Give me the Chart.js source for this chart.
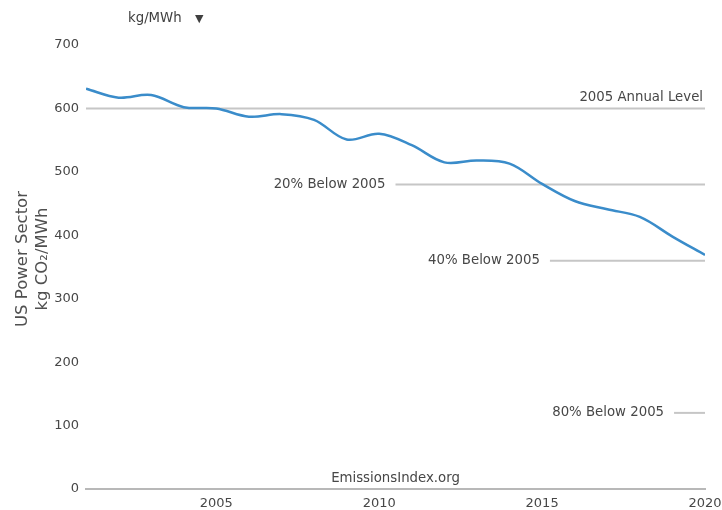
<!DOCTYPE html>
<html>
<head>
<meta charset="utf-8">
<script src="https://cdn.jsdelivr.net/npm/chart.js@4"></script>
<style>
  html, body { margin: 0; padding: 0; background: #fff; }
  #wrap { position: relative; width: 722px; height: 510px; }
</style>
</head>
<body>
<div id="wrap"><canvas id="c" width="722" height="510"></canvas></div>
<script>
// US power sector CO2 intensity, kg CO2 per MWh
const years = [2001, 2002, 2003, 2004, 2005, 2006, 2007, 2008, 2009, 2010,
               2011, 2012, 2013, 2014, 2015, 2016, 2017, 2018, 2019, 2020];
const intensity = [631, 617, 621, 602, 600, 587, 591, 582, 551, 560,
                   542, 515, 518, 513, 481, 454, 441, 429, 398, 369];

const yTicks = [0, 100, 200, 300, 400, 500, 600, 700];
const xTickYears = [2005, 2010, 2015, 2020];

// Benchmarks relative to the 2005 level
const benchmarkLabels = ['2005 Annual Level', '20% Below 2005', '40% Below 2005', '80% Below 2005'];
const benchmarkValues = [600, 480, 360, 120];
const benchmarkStartYears = [2001, 2010.5, 2015.24, 2019.05];

const axisTitle = ['US Power Sector', 'kg CO\u2082/MWh'];
const unitLabel = 'kg/MWh';
const unitArrow = '\u25BC';
const sourceLabel = 'EmissionsIndex.org';

const FONT = '"DejaVu Sans", Verdana, sans-serif';
const TEXT = '#474747';
const LINE_BLUE = '#3a8cca';
const REF_GREY = '#c6c6c6';

const benchmarkDatasets = benchmarkValues.map((v, i) => ({
  label: benchmarkLabels[i],
  data: [{ x: benchmarkStartYears[i], y: v }, { x: years[years.length - 1], y: v }],
  borderColor: REF_GREY,
  borderWidth: 2,
  pointRadius: 0,
  tension: 0,
  order: 2
}));

const overlay = {
  id: 'overlay',
  afterDatasetsDraw(chart) {
    const { ctx, chartArea, scales: { x, y } } = chart;
    ctx.save();
    ctx.fillStyle = TEXT;
    ctx.font = '13.3px ' + FONT;
    ctx.textBaseline = 'middle';

    // benchmark labels
    benchmarkValues.forEach((v, i) => {
      const py = y.getPixelForValue(v);
      ctx.textAlign = 'right';
      if (i === 0) {
        ctx.fillText(benchmarkLabels[i], chartArea.right - 2, py - 11);
      } else {
        const px = x.getPixelForValue(benchmarkStartYears[i]);
        ctx.fillText(benchmarkLabels[i], px - 10, py);
      }
    });

    // source credit
    ctx.textAlign = 'center';
    ctx.fillText(sourceLabel, (chartArea.left + chartArea.right) / 2, chartArea.bottom - 10);

    // unit selector
    ctx.fillStyle = '#404040';
    ctx.textAlign = 'left';
    ctx.fillText(unitLabel, 128, 19);
    ctx.font = '11px ' + FONT;
    ctx.fillText(unitArrow, 195, 19);

    // y axis title, two rotated lines
    ctx.fillStyle = '#505050';
    ctx.font = '16.5px ' + FONT;
    ctx.textAlign = 'center';
    const cy = 259;
    [23, 43].forEach((cx, i) => {
      ctx.save();
      ctx.translate(cx, cy);
      ctx.rotate(-Math.PI / 2);
      ctx.fillText(axisTitle[i], 0, 0);
      ctx.restore();
    });
    ctx.restore();
  }
};

new Chart(document.getElementById('c'), {
  type: 'line',
  data: {
    datasets: [
      {
        label: 'CO2 intensity',
        data: years.map((yr, i) => ({ x: yr, y: intensity[i] })),
        borderColor: LINE_BLUE,
        borderWidth: 2.5,
        pointRadius: 0,
        tension: 0.35,
        order: 1
      },
      ...benchmarkDatasets
    ]
  },
  options: {
    responsive: false,
    animation: false,
    devicePixelRatio: 1,
    layout: { padding: { top: 45, right: 17, bottom: 0, left: 0 } },
    plugins: { legend: { display: false }, tooltip: { enabled: false } },
    scales: {
      x: {
        type: 'linear',
        min: years[0],
        max: years[years.length - 1],
        afterBuildTicks: s => { s.ticks = xTickYears.map(v => ({ value: v })); },
        afterFit: s => { s.height = 21; s.paddingLeft = 0; s.paddingRight = 0; },
        grid: { display: false, drawTicks: false },
        border: { display: true, color: '#b8b8b8', width: 2 },
        ticks: {
          padding: 7, color: TEXT, maxRotation: 0, autoSkip: false,
          font: { family: FONT, size: 13 },
          callback: v => String(v)
        }
      },
      y: {
        min: 0,
        max: 700,
        afterBuildTicks: s => { s.ticks = yTicks.map(v => ({ value: v })); },
        afterFit: s => { s.width = 86; s.paddingTop = 0; s.paddingBottom = 0; },
        grid: { display: false, drawTicks: false },
        border: { display: false },
        ticks: {
          padding: 7, color: TEXT,
          font: { family: FONT, size: 13 },
          callback: v => String(v)
        }
      }
    }
  },
  plugins: [overlay]
});
</script>
</body>
</html>
